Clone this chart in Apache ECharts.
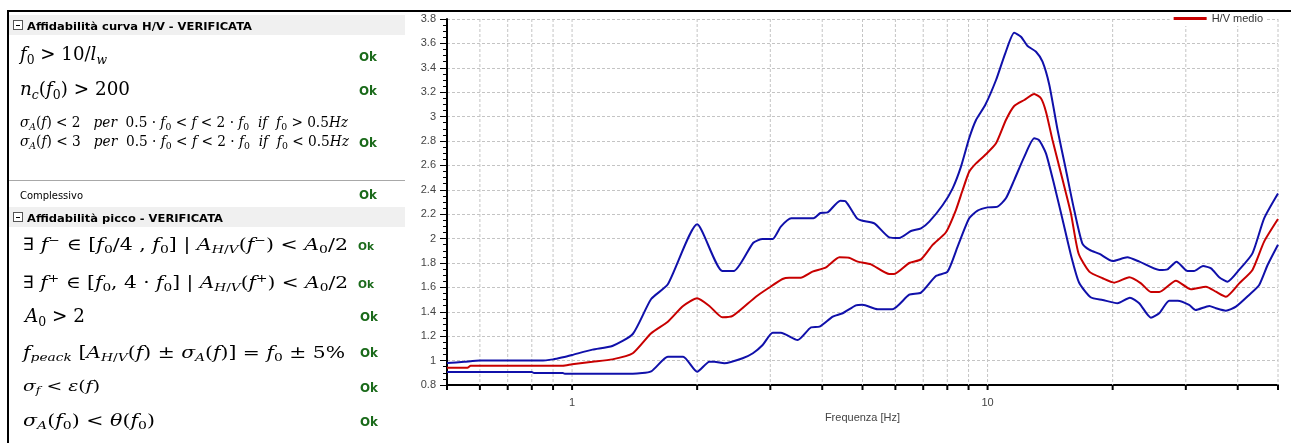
<!DOCTYPE html>
<html>
<head>
<meta charset="utf-8">
<script src="https://cdn.jsdelivr.net/npm/echarts@6.0.0/dist/echarts.min.js"></script>
<style>
html,body{margin:0;padding:0;background:#fff;width:1291px;height:443px;overflow:hidden}
#chart{position:absolute;left:0;top:0;width:1291px;height:443px}
#panel{position:absolute;left:0;top:0;width:410px;height:443px;pointer-events:none}
.row{position:absolute;white-space:nowrap;height:24px;line-height:24px}
.fit{display:inline-block;transform-origin:left center}
.m{font-family:'DejaVu Serif',serif;color:#000}
.m i{font-style:italic}
.hdr{position:absolute;left:9px;width:396px;height:20px;background:#f0f0f0}
.ht{font-family:'DejaVu Sans',sans-serif;font-weight:bold;font-size:11px;color:#000}
.ok{font-family:'DejaVu Sans',sans-serif;font-weight:bold;font-size:12px;color:#1a6a1a}
.ok.s{font-size:10px}
.plain{font-family:'DejaVu Sans',sans-serif;font-size:10px;color:#000}
.box{position:absolute;left:13px;width:8px;height:8px;border:1px solid #555;background:#fff}
.box:after{content:'';position:absolute;left:2px;top:4px;width:4px;height:1px;background:#000}
sub{font-size:68%;vertical-align:-0.3em;line-height:0}
sup{font-size:68%;vertical-align:0.5em;line-height:0}
.frame{position:absolute;background:#000}
</style>
</head>
<body>
<div id="chart"></div>
<div id="panel">
  <div class="hdr" style="top:15px"></div>
  <div class="box" style="top:20px"></div>
  <div class="row" style="left:27px;top:13px"><span class="fit ht" data-w="225">Affidabilità curva H/V - VERIFICATA</span></div>

  <div class="row" style="left:20px;top:42px"><span class="fit m" style="font-size:18px" data-w="87"><i>f</i><sub>0</sub> &gt; 10/<i>l</i><sub><i>w</i></sub></span></div>
  <div class="row" style="left:359px;top:44px"><span class="fit ok" data-w="18">Ok</span></div>

  <div class="row" style="left:20px;top:77px"><span class="fit m" style="font-size:18px" data-w="110"><i>n</i><sub><i>c</i></sub>(<i>f</i><sub>0</sub>) &gt; 200</span></div>
  <div class="row" style="left:359px;top:78px"><span class="fit ok" data-w="18">Ok</span></div>

  <div class="row" style="left:20px;top:110px"><span class="fit m" style="font-size:14px" data-w="328"><i>σ</i><sub><i>A</i></sub>(<i>f</i>) &lt; 2 &nbsp; <i>per</i> &nbsp;0.5 · <i>f</i><sub>0</sub> &lt; <i>f</i> &lt; 2 · <i>f</i><sub>0</sub> &nbsp;<i>if</i> &nbsp;<i>f</i><sub>0</sub> &gt; 0.5<i>Hz</i></span></div>
  <div class="row" style="left:20px;top:129px"><span class="fit m" style="font-size:14px" data-w="329"><i>σ</i><sub><i>A</i></sub>(<i>f</i>) &lt; 3 &nbsp; <i>per</i> &nbsp;0.5 · <i>f</i><sub>0</sub> &lt; <i>f</i> &lt; 2 · <i>f</i><sub>0</sub> &nbsp;<i>if</i> &nbsp;<i>f</i><sub>0</sub> &lt; 0.5<i>Hz</i></span></div>
  <div class="row" style="left:359px;top:130px"><span class="fit ok" data-w="18">Ok</span></div>

  <div class="frame" style="left:9px;top:180px;width:396px;height:1px;background:#a8a8a8"></div>
  <div class="row" style="left:20px;top:182px"><span class="fit plain" data-w="63">Complessivo</span></div>
  <div class="row" style="left:359px;top:182px"><span class="fit ok" data-w="18">Ok</span></div>

  <div class="hdr" style="top:207px"></div>
  <div class="box" style="top:212px"></div>
  <div class="row" style="left:27px;top:205px"><span class="fit ht" data-w="196">Affidabilità picco - VERIFICATA</span></div>

  <div class="row" style="left:23px;top:232px"><span class="fit m" style="font-size:17px" data-w="325">∃ <i>f</i><sup>−</sup> ∈ [<i>f</i><sub>0</sub>/4 , <i>f</i><sub>0</sub>] | <i>A</i><sub><i>H</i>/<i>V</i></sub>(<i>f</i><sup>−</sup>) &lt; <i>A</i><sub>0</sub>/2</span></div>
  <div class="row" style="left:358px;top:233px"><span class="fit ok s" data-w="16">Ok</span></div>

  <div class="row" style="left:23px;top:270px"><span class="fit m" style="font-size:17px" data-w="325">∃ <i>f</i><sup>+</sup> ∈ [<i>f</i><sub>0</sub>, 4 · <i>f</i><sub>0</sub>] | <i>A</i><sub><i>H</i>/<i>V</i></sub>(<i>f</i><sup>+</sup>) &lt; <i>A</i><sub>0</sub>/2</span></div>
  <div class="row" style="left:358px;top:271px"><span class="fit ok s" data-w="16">Ok</span></div>

  <div class="row" style="left:25px;top:304px"><span class="fit m" style="font-size:18px" data-w="60"><i>A</i><sub>0</sub> &gt; 2</span></div>
  <div class="row" style="left:360px;top:304px"><span class="fit ok" data-w="18">Ok</span></div>

  <div class="row" style="left:23px;top:340px"><span class="fit m" style="font-size:17px" data-w="322"><i>f</i><sub><i>peack</i></sub> [<i>A</i><sub><i>H</i>/<i>V</i></sub>(<i>f</i>) ± <i>σ</i><sub><i>A</i></sub>(<i>f</i>)] = <i>f</i><sub>0</sub> ± 5%</span></div>
  <div class="row" style="left:360px;top:340px"><span class="fit ok" data-w="18">Ok</span></div>

  <div class="row" style="left:23px;top:374px"><span class="fit m" style="font-size:15px" data-w="77"><i>σ</i><sub><i>f</i></sub> &lt; <i>ε</i>(<i>f</i>)</span></div>
  <div class="row" style="left:360px;top:375px"><span class="fit ok" data-w="18">Ok</span></div>

  <div class="row" style="left:23px;top:408px"><span class="fit m" style="font-size:17px" data-w="132"><i>σ</i><sub><i>A</i></sub>(<i>f</i><sub>0</sub>) &lt; <i>θ</i>(<i>f</i><sub>0</sub>)</span></div>
  <div class="row" style="left:360px;top:409px"><span class="fit ok" data-w="18">Ok</span></div>
</div>
<div class="frame" style="left:7px;top:10px;width:1284px;height:2px"></div>
<div class="frame" style="left:7px;top:10px;width:2px;height:433px"></div>

<script>
// ---- data ----
const upperFreq = [0.5,0.55,0.6,0.84,0.9,0.95,1.0,1.12,1.25,1.4,1.55,1.7,2.0,2.3,2.45,2.73,2.875,3.04,3.18,3.37,3.81,3.96,4.12,4.42,4.55,4.85,5.0,5.34,5.8,6.13,6.54,6.915,7.24,7.8,8.24,8.63,9.03,9.38,9.87,10.48,11.03,11.59,12.03,12.48,13.08,13.56,14.08,14.74,15.44,16.1,16.9,17.6,18.6,20.0,21.7,23.2,25.9,27.1,28.5,30.3,31.4,33.0,34.5,36.1,37.8,40.3,43.4,46.3,50];
const upperHV   = [0.98,0.99,1.0,1.0,1.01,1.027,1.046,1.09,1.12,1.218,1.505,1.625,2.117,1.734,1.734,1.966,1.997,1.997,2.098,2.166,2.166,2.21,2.215,2.311,2.306,2.166,2.147,2.125,2.01,2.005,2.062,2.084,2.139,2.275,2.412,2.59,2.822,2.972,3.095,3.3,3.519,3.688,3.655,3.579,3.532,3.45,3.259,2.89,2.562,2.26,1.961,1.907,1.874,1.816,1.847,1.811,1.743,1.748,1.811,1.734,1.734,1.775,1.756,1.683,1.647,1.743,1.879,2.166,2.37];

const meanFreq = [0.5,0.56,0.57,0.95,1.0,1.12,1.25,1.4,1.55,1.7,1.85,2.0,2.14,2.3,2.435,2.77,2.98,3.21,3.33,3.55,3.79,4.085,4.4,4.64,4.87,5.24,5.8,5.96,6.48,6.915,7.375,7.94,8.39,8.71,9.03,9.38,9.91,10.48,11.07,11.59,12.26,12.95,13.44,13.82,14.33,15.16,15.87,16.55,17.57,18.92,20.18,21.93,23.4,24.72,25.89,28.4,30.86,33.54,35.44,37.46,40.33,43.4,46.3,50];
const meanHV   = [0.942,0.942,0.958,0.958,0.97,0.99,1.01,1.06,1.224,1.319,1.447,1.511,1.448,1.355,1.366,1.524,1.598,1.669,1.68,1.68,1.729,1.765,1.847,1.843,1.811,1.789,1.71,1.71,1.80,1.83,1.948,2.052,2.234,2.398,2.548,2.617,2.691,2.781,2.972,3.087,3.136,3.185,3.15,3.04,2.808,2.48,2.207,1.88,1.729,1.675,1.639,1.683,1.633,1.562,1.562,1.655,1.584,1.606,1.565,1.524,1.633,1.743,1.975,2.16];

const lowerFreq = [0.5,0.8,0.81,0.95,0.96,1.4,1.55,1.7,1.85,2.0,2.14,2.2,2.325,2.573,2.724,2.875,3.04,3.18,3.49,3.76,3.94,4.24,4.48,4.82,5.0,5.44,5.9,6.48,6.915,7.51,8.01,8.47,9.03,9.46,10.0,10.57,11.07,11.59,12.26,12.95,13.3,13.82,14.47,15.16,15.87,16.6,17.7,18.92,20.55,22.0,23.17,24.72,25.89,27.36,28.7,30.55,31.67,34.17,35.44,37.46,39.6,42.6,45.05,47.2,50];
const lowerHV   = [0.907,0.907,0.898,0.898,0.893,0.893,0.912,1.032,1.032,0.909,0.991,0.991,0.978,1.019,1.06,1.128,1.229,1.229,1.169,1.273,1.278,1.36,1.388,1.453,1.458,1.42,1.42,1.54,1.557,1.693,1.729,1.934,2.166,2.229,2.256,2.262,2.33,2.48,2.672,2.822,2.808,2.699,2.439,2.152,1.866,1.64,1.519,1.497,1.47,1.516,1.47,1.352,1.388,1.491,1.491,1.456,1.415,1.448,1.429,1.409,1.442,1.538,1.62,1.784,1.95];

const gridFreqs = [0.5,0.6,0.7,0.8,0.9,1,2,3,4,5,6,7,8,9,10,20,30,40,50];
const xLabelValues = [1, 10];
const meanName = 'H/V medio';
const xName = 'Frequenza [Hz]';

// ---- fit formula rows to measured widths ----
document.querySelectorAll('[data-w]').forEach(function (el) {
  const w = el.getBoundingClientRect().width;
  if (w > 0) el.style.transform = 'scaleX(' + (+el.dataset.w / w) + ')';
});

const zip = (a, b) => a.map((v, i) => [v, b[i]]);
const yMin = 0.8, yMax = 3.8;

const chart = echarts.init(document.getElementById('chart'), null, {renderer: 'canvas'});
chart.setOption({
  animation: false,
  backgroundColor: '#fff',
  grid: {left: 447, right: 13, top: 19, bottom: 58, containLabel: false},
  legend: {
    data: [meanName], right: 24, top: 11, icon: 'rect', itemWidth: 33, itemHeight: 3, itemGap: 5,
    backgroundColor: '#fff', padding: [2, 4],
    textStyle: {fontSize: 11, color: '#333', fontFamily: 'Liberation Sans'}
  },
  xAxis: {
    type: 'log', logBase: 10, min: 0.5, max: 50,
    axisLine: {onZero: false, lineStyle: {color: '#000', width: 2}},
    axisTick: {show: false}, minorTick: {show: false}, splitLine: {show: false},
    axisLabel: {
      color: '#444', fontSize: 11, fontFamily: 'Liberation Sans', margin: 12,
      formatter: function (v) {
        const hit = xLabelValues.find(function (t) { return Math.abs(t - v) < 1e-6 * t; });
        return hit !== undefined ? String(hit) : '';
      }
    },
    name: xName, nameLocation: 'middle', nameGap: 19,
    nameTextStyle: {color: '#444', fontSize: 11, fontFamily: 'Liberation Sans'}
  },
  yAxis: {
    type: 'value', min: yMin, max: yMax, interval: 0.2,
    axisLine: {show: true, onZero: false, lineStyle: {color: '#000', width: 2}},
    axisTick: {show: true, length: 7, lineStyle: {color: '#000'}},
    minorTick: {show: true, splitNumber: 4, length: 4, lineStyle: {color: '#000'}},
    axisLabel: {
      color: '#444', fontSize: 11, fontFamily: 'Liberation Sans', margin: 11,
      formatter: function (v) { return String(Math.round(v * 10) / 10); }
    },
    splitLine: {show: true, lineStyle: {color: '#c4c4c4', type: [3, 2], width: 1}}
  },
  series: [
    {
      type: 'custom', silent: true, clip: false, z: 1,
      data: gridFreqs.map(function (f) { return [f, yMin]; }),
      encode: {x: 0, y: 1},
      renderItem: function (params, api) {
        const f = api.value(0);
        const b = api.coord([f, yMin]);
        const t = api.coord([f, yMax]);
        const children = [];
        if (f > 0.5) {
          children.push({type: 'line', shape: {x1: b[0], y1: t[1], x2: b[0], y2: b[1]},
            style: {stroke: '#c4c4c4', lineWidth: 1, lineDash: [3, 2]}});
        }
        children.push({type: 'line', shape: {x1: b[0], y1: b[1], x2: b[0], y2: b[1] + 5},
          style: {stroke: '#000', lineWidth: 2}});
        return {type: 'group', children: children};
      }
    },
    {name: 'upper', type: 'line', z: 3, symbol: 'none', smooth: 0.2, data: zip(upperFreq, upperHV),
      lineStyle: {color: '#1010aa', width: 2}, itemStyle: {color: '#1010aa'}},
    {name: 'lower', type: 'line', z: 3, symbol: 'none', smooth: 0.2, data: zip(lowerFreq, lowerHV),
      lineStyle: {color: '#1010aa', width: 2}, itemStyle: {color: '#1010aa'}},
    {name: meanName, type: 'line', z: 4, symbol: 'none', smooth: 0.2, data: zip(meanFreq, meanHV),
      lineStyle: {color: '#c80000', width: 2}, itemStyle: {color: '#c80000'}}
  ]
});
</script>
</body>
</html>
